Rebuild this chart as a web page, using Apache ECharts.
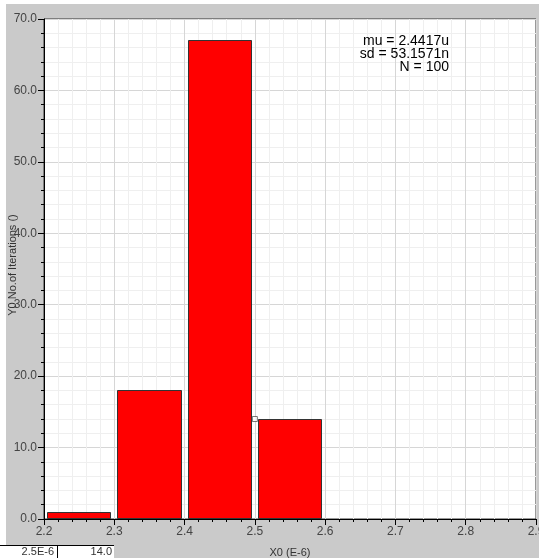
<!DOCTYPE html>
<html>
<head>
<meta charset="utf-8">
<script src="https://cdn.jsdelivr.net/npm/echarts@6/dist/echarts.min.js"></script>
<style>
html,body{margin:0;padding:0;background:#fff;}
#c{width:539px;height:558px;}
</style>
</head>
<body>
<div id="c"></div>
<script>
var binStart = [2.2, 2.3, 2.4, 2.5];
var binEnd = [2.3, 2.4, 2.5, 2.6];
var counts = [1, 18, 67, 14];
var cursorPoint = [2.5, 14];
var statsLines = ['mu = 2.4417u', 'sd = 53.1571n', 'N = 100'];
var tableCells = ['2.5E-6', '14.0'];
var xTitle = 'X0 (E-6)';
var yTitle = 'Y0 No.of Iterations ()';

var FONT = '"Liberation Sans", Arial, sans-serif';
var chart = echarts.init(document.getElementById('c'), null, {renderer: 'canvas'});

var histData = binStart.map(function (s, i) { return [s, binEnd[i], counts[i]]; });

var option = {
  backgroundColor: '#cacaca',
  animation: false,
  textStyle: {fontFamily: FONT},
  graphic: [
    {type: 'rect', z: 10, silent: true, shape: {x: 0, y: 0, width: 539, height: 4}, style: {fill: '#fff'}},
    {type: 'rect', z: 10, silent: true, shape: {x: 0, y: 0, width: 6, height: 558}, style: {fill: '#fff'}},
    {type: 'rect', z: 10, silent: true, shape: {x: 0, y: 545, width: 114, height: 13}, style: {fill: '#fff'}},
    {type: 'line', z: 11, silent: true, shape: {x1: 0, y1: 545.5, x2: 114, y2: 545.5}, style: {stroke: '#000', lineWidth: 1}},
    {type: 'line', z: 11, silent: true, shape: {x1: 57.5, y1: 545, x2: 57.5, y2: 558}, style: {stroke: '#000', lineWidth: 1}},
    {type: 'text', z: 12, silent: true, x: 54, y: 552, style: {text: tableCells[0], font: '11px ' + FONT, fill: '#333', align: 'right', verticalAlign: 'middle'}},
    {type: 'text', z: 12, silent: true, x: 112, y: 552, style: {text: tableCells[1], font: '11px ' + FONT, fill: '#333', align: 'right', verticalAlign: 'middle'}},
    {type: 'text', z: 12, silent: true, x: 449, y: 41, style: {text: statsLines[0], font: '14px ' + FONT, fill: '#000', align: 'right', verticalAlign: 'middle'}},
    {type: 'text', z: 12, silent: true, x: 449, y: 54, style: {text: statsLines[1], font: '14px ' + FONT, fill: '#000', align: 'right', verticalAlign: 'middle'}},
    {type: 'text', z: 12, silent: true, x: 449, y: 67, style: {text: statsLines[2], font: '14px ' + FONT, fill: '#000', align: 'right', verticalAlign: 'middle'}},
    {type: 'text', z: 12, silent: true, x: 13, y: 265, rotation: Math.PI / 2, style: {text: yTitle, font: '11px ' + FONT, fill: '#333', align: 'center', verticalAlign: 'middle'}}
  ],
  grid: {
    left: 44, right: 3, top: 19, bottom: 39,
    containLabel: false, outerBoundsMode: 'none',
    show: true, backgroundColor: '#fff', borderColor: '#333', borderWidth: 1
  },
  xAxis: {
    type: 'value', min: 2.2, max: 2.9, interval: 0.1,
    name: xTitle, nameLocation: 'middle', nameGap: 28,
    nameTextStyle: {color: '#333', fontSize: 11, fontFamily: FONT},
    axisLine: {show: true, onZero: false, lineStyle: {color: '#000', width: 1}},
    axisTick: {show: true, inside: false, length: 6, lineStyle: {color: '#000'}},
    minorTick: {show: true, splitNumber: 5, length: 3, lineStyle: {color: '#000'}},
    axisLabel: {color: '#444', fontSize: 12, margin: 7, fontFamily: FONT, hideOverlap: false,
      formatter: function (v) { return v.toFixed(1); }},
    splitLine: {show: true, lineStyle: {color: '#d6d6d6', width: 1}},
    minorSplitLine: {show: true, lineStyle: {color: '#efefef', width: 1}}
  },
  yAxis: {
    type: 'value', min: 0, max: 70, interval: 10,
    axisLine: {show: true, lineStyle: {color: '#000', width: 1}},
    axisTick: {show: true, inside: false, length: 6, lineStyle: {color: '#000'}},
    minorTick: {show: true, splitNumber: 5, length: 3, lineStyle: {color: '#000'}},
    axisLabel: {color: '#444', fontSize: 12, margin: 7, fontFamily: FONT,
      formatter: function (v) { return v.toFixed(1); }},
    splitLine: {show: true, lineStyle: {color: '#d6d6d6', width: 1}},
    minorSplitLine: {show: true, lineStyle: {color: '#efefef', width: 1}}
  },
  series: [
    {
      type: 'custom',
      data: histData,
      encode: {x: [0, 1], y: 2},
      clip: true,
      renderItem: function (params, api) {
        var p0 = api.coord([api.value(0), api.value(2)]);
        var p1 = api.coord([api.value(1), 0]);
        var x0 = Math.round(p0[0]) + 3;
        var x1 = Math.round(p1[0]) - 4;
        var y0 = Math.round(p0[1]);
        var y1 = Math.round(p1[1]);
        return {
          type: 'rect',
          shape: {x: x0 + 0.5, y: y0 + 0.5, width: x1 - x0, height: y1 - y0 - 1},
          style: {fill: '#ff0000', stroke: '#333', lineWidth: 1}
        };
      }
    },
    {
      type: 'scatter',
      data: [cursorPoint],
      symbol: 'rect',
      symbolSize: 5,
      z: 5,
      itemStyle: {color: '#fff', borderColor: '#555', borderWidth: 1}
    }
  ]
};
chart.setOption(option);
</script>
</body>
</html>
